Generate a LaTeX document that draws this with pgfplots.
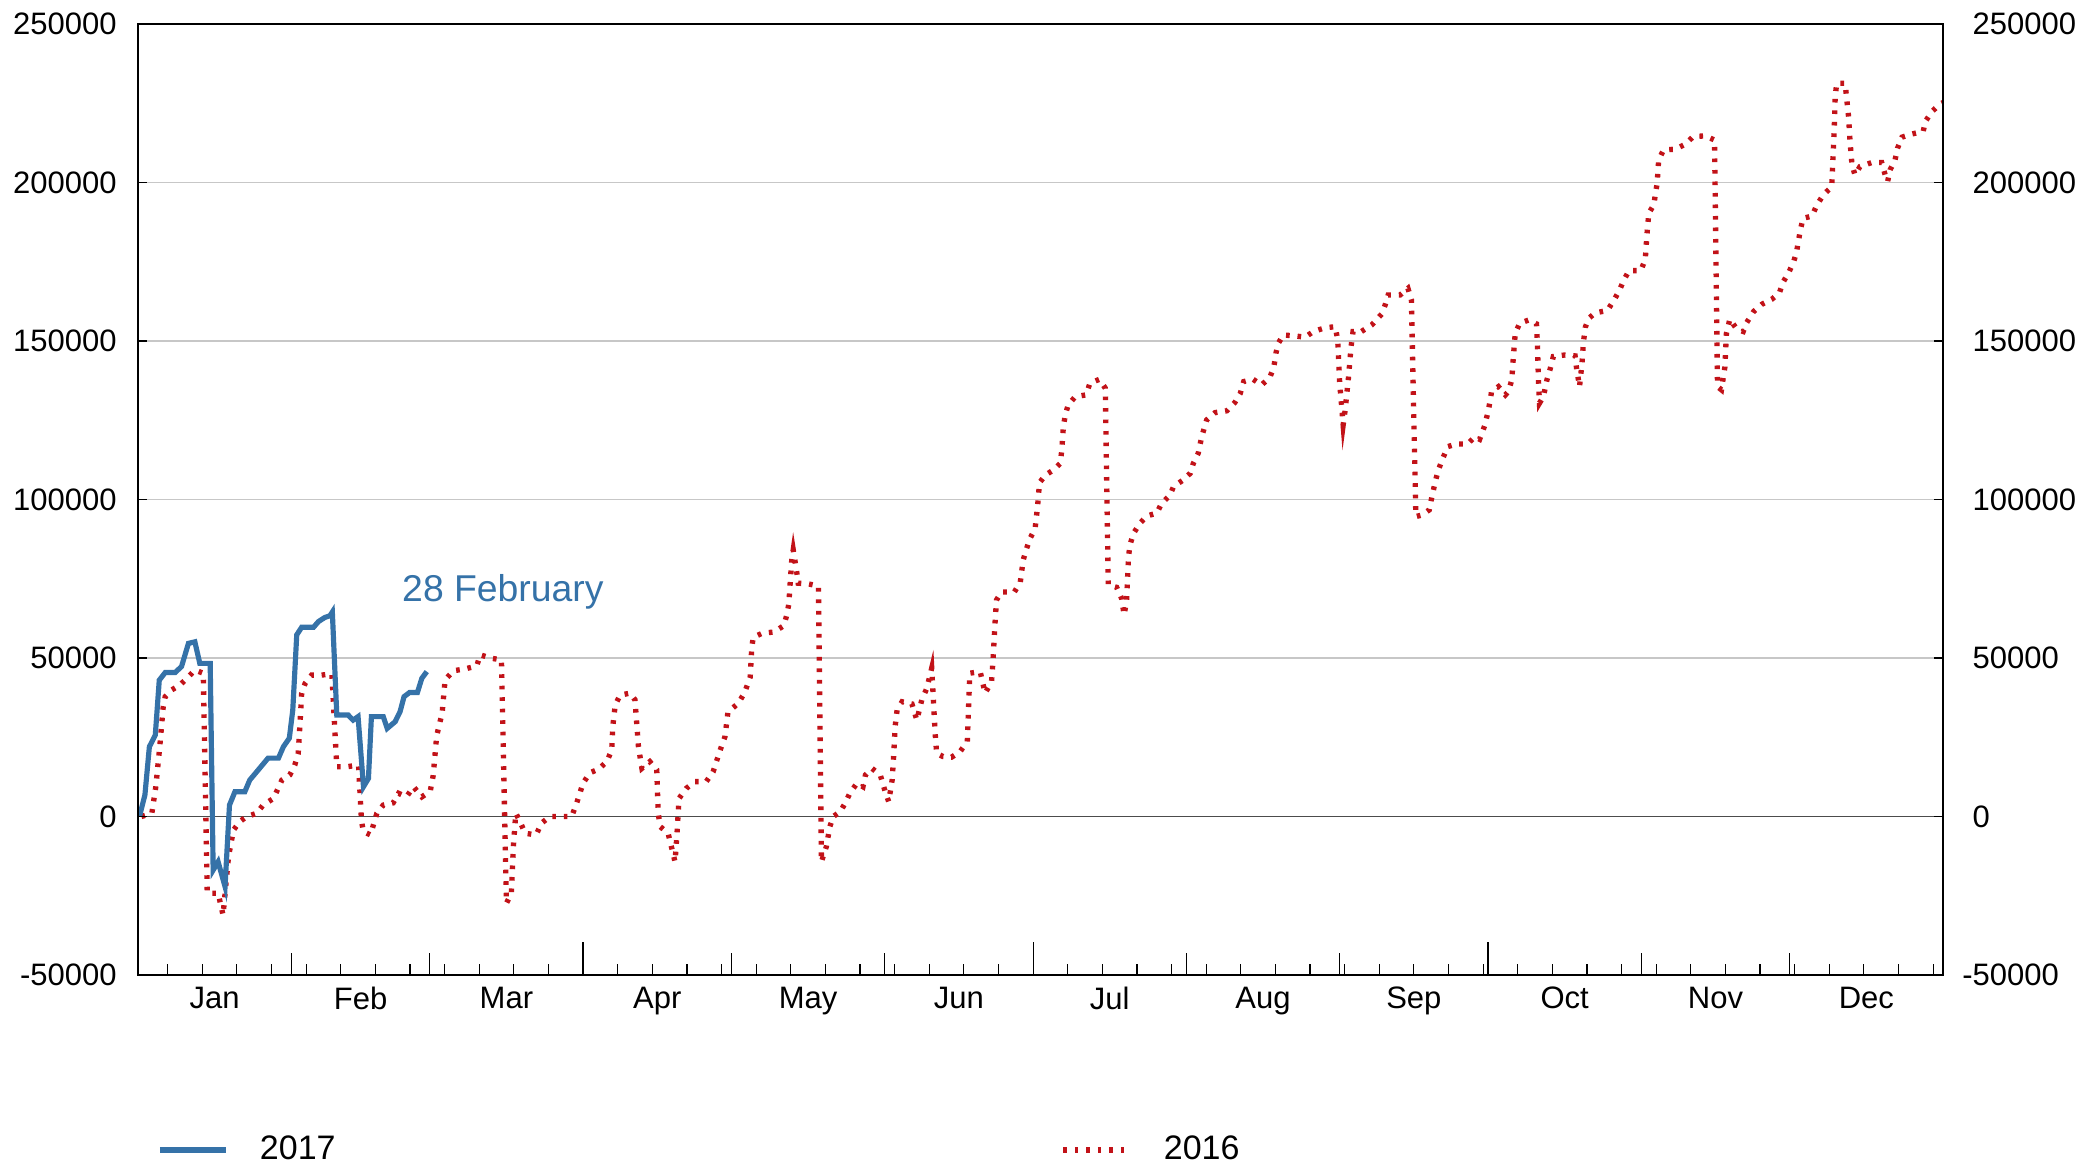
\documentclass[border=0pt]{standalone}
\usepackage{fontspec}
\setmainfont{Liberation Sans}
\usepackage{pgfplots}
\pgfplotsset{compat=1.18}
\definecolor{c17}{RGB}{53,114,168}
\definecolor{c16}{RGB}{194,18,24}
\begin{document}
\begin{tikzpicture}
\useasboundingbox (0,0) rectangle (630pt,350.7pt);
\begin{axis}[
  at={(41.4pt,58.2pt)}, anchor=south west,
  scale only axis, width=541.5pt, height=285.3pt,
  xmin=0, xmax=365, ymin=-50000, ymax=250000,
  axis line style={black, line width=0.45pt},
  tick align=inside,
  xtick pos=bottom,
  xtick={0,31,59,90,120,151,181,212,243,273,304,334,365},
  x tick label as interval,
  xticklabels={Jan,Feb,Mar,Apr,May,Jun,Jul,Aug,Sep,Oct,Nov,Dec},
  minor xtick={6,13,...,363},
  major tick length=6.6pt, minor tick length=3.3pt,
  tick style={black, line width=0.35pt},
  extra x ticks={90,181,273},
  extra x tick labels={},
  extra x tick style={major tick length=9.9pt, x tick label as interval=false},
  ytick={-50000,0,50000,100000,150000,200000,250000},
  yticklabels={-50000,0,50000,100000,150000,200000,250000},
  ytick style={draw=none},
  ymajorgrids,
  major grid style={black!22, line width=0.4pt},
  extra y ticks={0},
  extra y tick labels={},
  extra y tick style={ymajorgrids=true, major grid style={black!70, line width=0.55pt}},
  ticklabel style={font=\fontsize{9.3}{11}\selectfont},
  yticklabel style={inner sep=0pt, xshift=-6.2pt},
  legend image code/.code={\draw[#1] (0pt,0pt) -- (20pt,0pt); \path (27.2pt,0pt);},
  legend columns=2,
  legend style={at={(0.0105,-0.184)}, anchor=west, draw=none, fill=none,
    inner sep=0pt, outer sep=0pt, font=\fontsize{10.2}{12}\selectfont,
    /tikz/every even column/.append style={column sep=215.4pt}},
]
\addlegendimage{c17, line width=1.7pt}
\addlegendentry{2017}
\addlegendimage{c16, line width=1.9pt, dash pattern=on 1pt off 2.45pt}
\addlegendentry{2016}

\addplot[forget plot, c16, line width=1.6pt, dash pattern=on 1.1pt off 2.35pt] coordinates {
(0.7,0) (2.8,1000) (3.6,9400) (4.4,22000) (5.1,34600) (5.5,37800) (6.8,39900) (8.5,41500)
(10.2,44100) (11.5,46200) (13.2,45200) (14.0,-24200) (16.2,-24200) (17.2,-31100) (18.3,-12700)
(19.3,-4300) (20.6,-1600) (22.0,0) (24.0,1000) (25.3,3600) (27.4,5700) (29.1,11500) (30.7,13100)
(31.7,16200) (32.4,19900) (32.8,30400) (33.1,38900) (33.8,42000) (35.1,44600) (37.1,44600)
(39.2,45000) (40.2,15700) (42.2,15700) (44.6,16200) (45.2,-1600) (45.6,-4800) (47.0,-5800)
(48.3,1000) (49.6,3600) (51.6,4300) (52.7,7300) (54.3,6200) (55.7,9400) (57.4,6200) (59.1,8000)
(59.7,13000) (60.4,25500) (61.5,32600) (62.1,43100) (63.8,46000) (66.0,46500) (68.5,47500)
(69.2,51000) (71.5,49900) (73.5,49400) (74.5,-27400) (75.5,-24200) (75.9,-9500) (76.4,1000)
(77.2,-1500) (78.3,-5300) (80.5,-5800) (81.6,-2100) (83.3,0) (87.7,0) (88.7,4200) (90.0,10500)
(91.4,13800) (93.1,14900) (94.8,17300) (95.8,21000) (96.0,28300) (96.5,35200) (97.5,38300)
(99.5,38900) (100.5,36800) (101.2,22000) (101.9,15200) (103.5,17300) (104.9,14700) (105.2,1000)
(105.6,-3200) (107.2,-5300) (108.6,-14300) (109.0,-5300) (109.4,5700) (110.9,8900) (112.6,11000)
(114.9,11000) (116.3,14100) (117.6,20400) (118.7,25200) (119.3,33000) (121.4,35700) (122.7,39200)
(123.8,44000) (124.1,53000) (124.4,56500) (126.2,57800) (128.6,58200) (130.6,60200) (131.2,63600)
(131.6,67000) (131.9,74100) (132.2,80900) (132.5,84100) (133.2,77200) (133.5,73600) (135.5,73400)
(137.6,72700) (138.2,-14300) (139.2,-9500) (139.9,-3200) (140.6,0) (142.0,1500) (143.0,4200)
(144.0,7500) (145.4,10500) (146.6,9400) (147.1,13100) (148.4,15200) (150.1,13100) (151.1,7800)
(151.8,4700) (152.5,11500) (152.8,18900) (153.1,28300) (153.5,33600) (154.5,36200) (156.5,35500)
(157.5,30400) (158.5,36800) (159.5,40400) (160.5,46800) (161.2,26200) (161.5,19900) (162.8,18900)
(164.5,18700) (166.2,20400) (167.7,23600) (168.2,45200) (170.3,45700) (171.3,38900) (172.6,42500)
(172.9,49400) (173.3,60900) (173.6,68300) (174.6,70800) (177.2,70800) (178.4,73800) (179.0,80900)
(179.7,84600) (180.4,87800) (181.4,90700) (181.9,97700) (182.3,105300) (183.5,107700) (185.1,109300)
(186.5,111400) (186.8,115600) (187.1,122500) (187.5,126700) (188.1,129800) (189.5,132400)
(191.7,133000) (192.5,136700) (194.4,137900) (195.6,135100) (196.2,73000) (197.9,72300)
(198.9,68800) (199.4,63600) (199.9,67800) (200.3,82000) (200.6,85700) (201.3,89300) (202.6,92500)
(204.0,94800) (206.0,95700) (207.0,98800) (208.7,101400) (209.4,104100) (211.4,106200)
(212.8,108300) (213.4,111400) (214.4,114600) (215.1,119800) (216.1,125100) (217.8,127400)
(220.2,128000) (221.8,130600) (222.9,133500) (223.6,137200) (225.5,137900) (227.2,136100)
(228.9,138600) (229.7,141900) (230.1,146100) (230.6,149300) (231.6,151900) (234.0,151600)
(236.0,151200) (237.7,153000) (240.1,154200) (242.1,154500) (242.6,150300) (243.0,136700)
(243.4,129300) (243.7,123500) (244.1,128200) (244.8,138800) (245.3,148200) (245.7,153000)
(247.4,153000) (249.5,155100) (251.5,158500) (252.2,161400) (252.8,164500) (255.2,164500)
(256.8,166600) (257.5,163000) (258.4,94600) (259.6,95100) (261.1,96700) (261.8,102000)
(262.5,106700) (263.1,109900) (263.9,113200) (264.9,116700) (266.6,117500) (268.9,117500)
(270.3,119800) (271.3,119000) (272.3,123200) (272.9,127000) (273.4,130900) (273.7,134000)
(275.1,135600) (276.5,133000) (277.1,134000) (277.8,137700) (278.1,144600) (278.5,152400)
(279.4,155600) (281.2,156600) (282.8,155400) (283.0,148200) (283.2,137200) (283.4,130400)
(284.2,132500) (284.9,137700) (285.6,141400) (286.2,145100) (288.6,145600) (290.6,145300)
(290.9,141400) (291.5,135600) (292.0,143000) (292.3,149800) (292.7,154500) (293.4,157200)
(294.7,158900) (297.1,159600) (298.4,162700) (299.5,165800) (300.5,169300) (301.5,172200)
(303.9,172200) (304.8,175800) (305.1,182900) (305.5,190300) (306.5,192900) (307.2,199800)
(307.5,207100) (308.5,210300) (310.9,210500) (312.9,212100) (314.5,214500) (316.9,214700)
(318.8,213400) (319.4,135600) (320.2,134600) (320.9,141900) (321.2,152400) (321.9,156900)
(323.3,153700) (324.6,153000) (325.3,155800) (326.7,159300) (328.4,161600) (330.4,163200)
(331.9,165100) (332.6,168400) (333.8,171600) (334.8,175000) (335.4,178200) (335.8,181900)
(336.2,185300) (336.7,188700) (338.5,189400) (339.5,192900) (340.8,196100) (342.5,198700)
(342.7,206100) (343.0,216600) (343.2,227100) (343.5,231300) (345.2,231300) (345.9,220800)
(346.2,212900) (346.6,205500) (347.2,202400) (348.2,205000) (350.6,206300) (352.6,206300)
(353.3,202400) (353.8,200300) (354.3,204000) (355.3,207100) (355.8,210800) (356.7,214300)
(358.7,215300) (361.0,216100) (361.4,219200) (362.8,222400) (364.4,224800) (365,225200)
};

\addplot[forget plot, c17, line width=1.55pt] coordinates {
(0.3,0) (1.4,6800) (2.3,22000) (3.5,25700) (4.3,43000) (5.5,45400) (7.5,45400) (8.8,47300)
(10.2,54600) (11.5,55100) (12.5,48300) (14.6,48300) (15.2,-16900) (16.2,-14300) (17.6,-22100)
(18.5,3600) (19.6,7800) (21.6,7800) (22.6,11500) (24.0,14100) (26.3,18400) (28.4,18400)
(29.4,22000) (30.6,24700) (31.3,33600) (32.1,57300) (33.1,59700) (35.5,59700) (36.5,61500)
(37.8,62800) (38.8,63300) (39.3,64500) (40.2,32000) (42.5,32000) (43.5,30400) (44.5,31500)
(45.6,9400) (46.6,12000) (47.2,31500) (49.6,31500) (50.4,27800) (52.0,29900) (53.0,33100)
(53.8,37800) (54.9,39100) (56.5,39100) (57.4,43600) (58.4,45700)
};

\node[anchor=base west, inner sep=0pt, text=c17, font=\fontsize{11.2}{13}\selectfont]
  at (axis cs:53.3,67800) {28 February};
\end{axis}

\begin{axis}[
  at={(41.4pt,58.2pt)}, anchor=south west,
  scale only axis, width=541.5pt, height=285.3pt,
  xmin=0, xmax=365, ymin=-50000, ymax=250000,
  hide x axis,
  axis line style={black, line width=0.45pt},
  ytick={-50000,0,50000,100000,150000,200000,250000},
  yticklabels={\llap{-}50000,0,50000,100000,150000,200000,250000},
  ytick pos=both, yticklabel pos=right, tick align=inside,
  major tick length=2.7pt,
  tick style={black, line width=0.4pt},
  yticklabel style={inner sep=0pt, xshift=8.7pt, anchor=west, font=\fontsize{9.3}{11}\selectfont},
]
\end{axis}
\end{tikzpicture}
\end{document}
